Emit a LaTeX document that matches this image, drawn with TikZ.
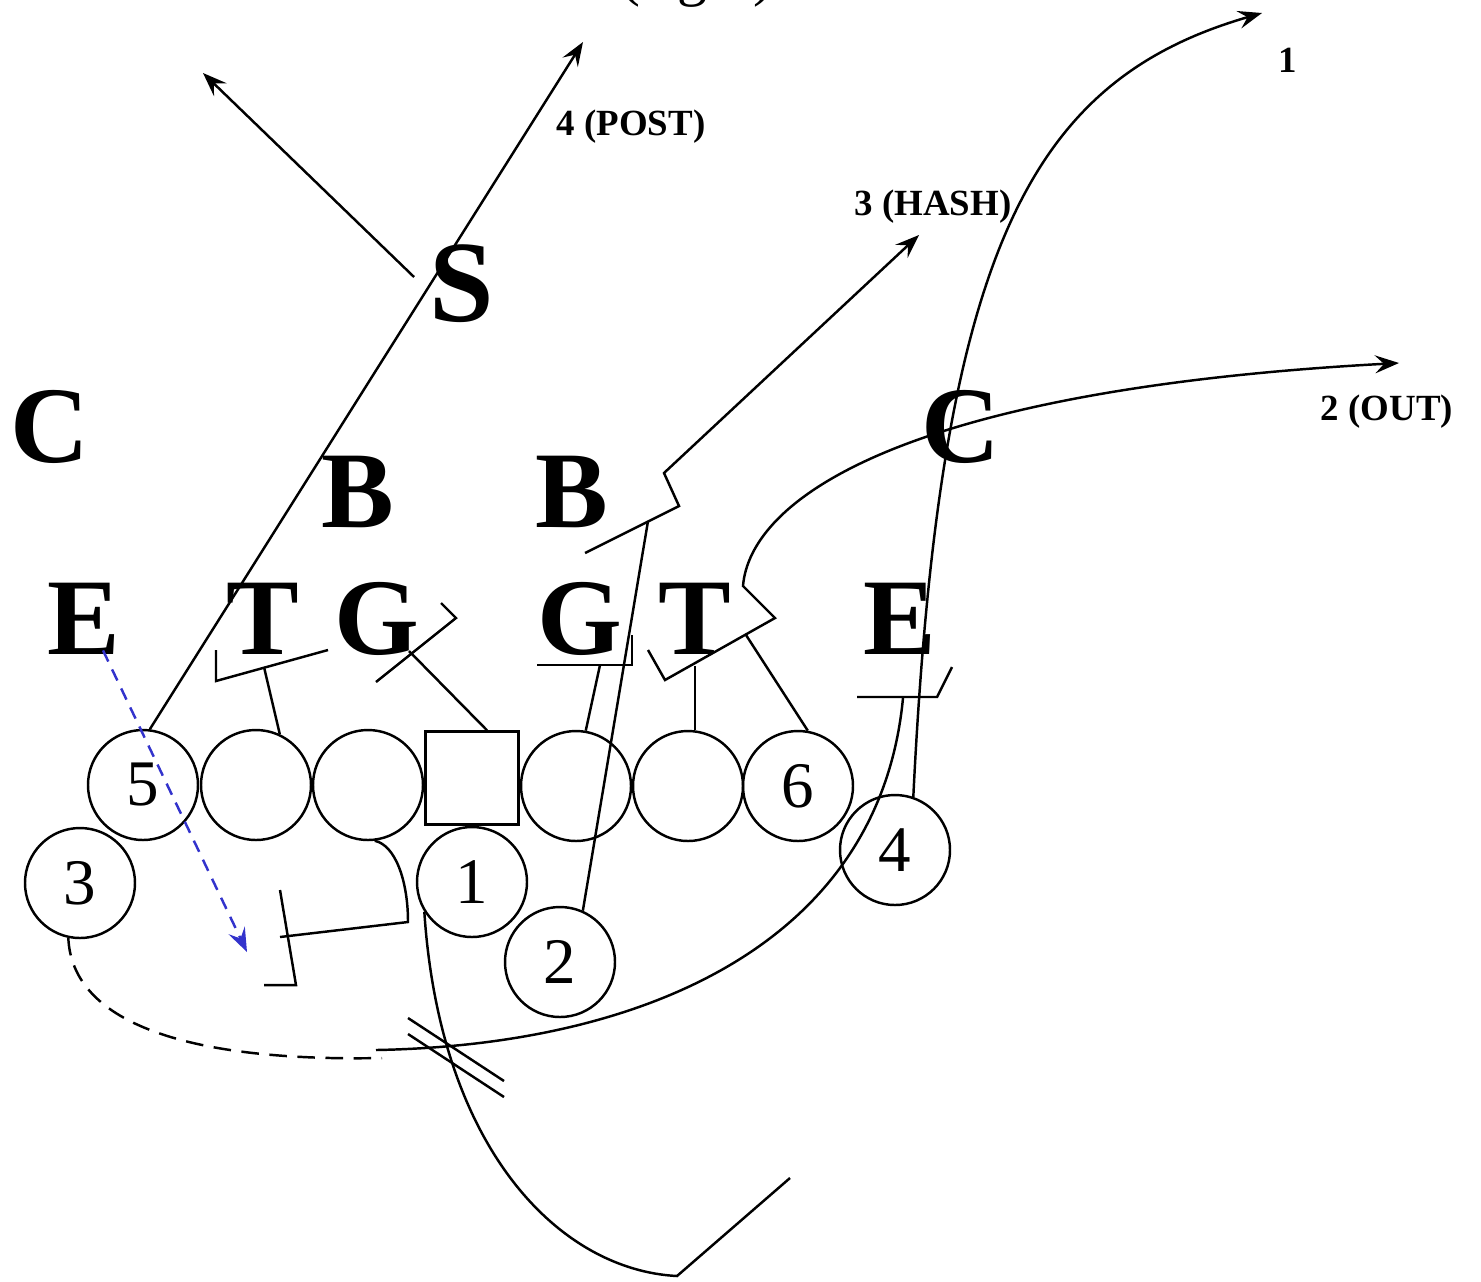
\documentclass[tikz,border=0pt]{standalone}
\usepackage{fontspec}
\setmainfont{Liberation Serif}
\usetikzlibrary{arrows.meta}
\definecolor{motionblue}{RGB}{51,51,204}

\begin{document}
\begin{tikzpicture}[
      player/.style={circle, draw, line width=0.7pt, minimum size=1.1cm,
                     inner sep=0pt, font=\fontsize{18.5}{20}\selectfont},
      snapper/.style={rectangle, draw, line width=0.7pt, minimum size=0.93cm,
                      inner sep=0pt},
      defender/.style={inner sep=0pt, font=\fontsize{31}{36}\selectfont\bfseries},
      routelabel/.style={inner sep=0pt, font=\fontsize{10.5}{12}\selectfont\bfseries},
      route/.style={line width=0.7pt},
      arrow/.style={->, route, >={Stealth[length=2.4mm, width=1.8mm, inset=0.9mm]}},
      motion/.style={arrow, motionblue, dash pattern=on 3.5pt off 2.5pt}
    ]
    \useasboundingbox (0,0) rectangle (14.81,-12.81);

    % offense
    \node[player]  (p5)  at (1.43,-7.85) {5};
    \node[player]  (plt) at (2.56,-7.85) {};
    \node[player]  (plg) at (3.68,-7.85) {};
    \node[snapper] (pc)  at (4.72,-7.78) {};
    \node[player]  (prg) at (5.76,-7.86) {};
    \node[player]  (prt) at (6.88,-7.86) {};
    \node[player]  (p6)  at (7.98,-7.86) {6};
    \node[player]  (p4)  at (8.95,-8.50) {4};
    \node[player]  (p3)  at (0.80,-8.83) {3};
    \node[player]  (p1)  at (4.72,-8.82) {1};
    \node[player]  (p2)  at (5.60,-9.62) {2};

    % defense
    \node[defender] (dcl) at (0.50,-4.27) {C};
    \node[defender, font=\fontsize{33}{38}\selectfont\bfseries] (ds) at (4.62,-2.84) {S};
    \node[defender] (db1) at (3.58,-4.92) {B};
    \node[defender] (db2) at (5.72,-4.92) {B};
    \node[defender] (dcr) at (9.61,-4.27) {C};
    \node[defender] (del) at (0.84,-6.19) {E};
    \node[defender] (dtl) at (2.63,-6.19) {T};
    \node[defender] (dgl) at (3.77,-6.19) {G};
    \node[defender] (dgr) at (5.80,-6.19) {G};
    \node[defender] (dtr) at (6.95,-6.19) {T};
    \node[defender] (der) at (9.00,-6.19) {E};

    % labels
    \node[font=\fontsize{17}{20}\selectfont, anchor=base] (lright) at (6.97,0.06) {(right)};
    \node[routelabel] (lpost) at (6.31,-1.27) {4 (POST)};
    \node[routelabel] (lhash) at (9.33,-2.07) {3 (HASH)};
    \node[routelabel] (lone)  at (12.88,-0.60) {1};
    \node[routelabel] (lout)  at (13.87,-4.12) {2 (OUT)};

    % route ends
    \coordinate (sdeep) at (2.03,-0.73);
    \coordinate (post)  at (5.83,-0.42);
    \coordinate (hash)  at (9.19,-2.35);
    \coordinate (deep)  at (12.62,-0.13);
    \coordinate (out)   at (13.99,-3.63);
    \coordinate (bblk)  at (6.48,-5.21);

    % routes
    \draw[arrow] ([xshift=-1.5mm,yshift=0.7mm]ds.west) -- (sdeep);
    \draw[arrow] (p5.83) -- (post);
    \draw[arrow] (5.85,-5.53) -- (6.79,-5.06) -- (6.64,-4.73) -- (hash);
    \draw[route] (p2.66) -- (bblk);
    \draw[arrow] (p4.71) .. controls (9.40,-2.50) and (10.30,-0.80) .. (deep);
    \draw[arrow] (6.48,-6.50) -- (6.65,-6.80) -- (7.75,-6.18) -- (7.43,-5.86)
                 .. controls (7.50,-5.00) and (9.00,-3.90) .. (out);
    \draw[motion] ([xshift=1.9mm,yshift=0.5mm]del.south) -- (2.47,-9.52);

    % blocks
    \draw[route] (p6.80) -- (7.46,-6.35);
    \draw[route] (prt.83) -- ++(0,0.64);
    \draw[route] (5.37,-6.65) -- (6.32,-6.65) -- (6.32,-6.35);
    \draw[route] (prg.80) -- (6.00,-6.65);
    \draw[route] ([xshift=1.5mm]pc.north) -- (4.09,-6.51);
    \draw[route] (3.76,-6.82) -- (4.56,-6.18) -- (4.41,-6.03);
    \draw[route] (plt.65) -- (2.64,-6.67);
    \draw[route] (2.16,-6.50) -- (2.16,-6.81) -- (3.28,-6.50);
    \draw[route] (8.57,-6.97) -- (9.37,-6.97) -- (9.52,-6.67);

    % backfield
    \draw[route] (plg.-83) .. controls (3.95,-8.45) and (4.08,-8.80) .. (4.08,-9.22)
                 -- (2.80,-9.37);
    \draw[route] (2.80,-8.90) -- (2.96,-9.85) -- (2.64,-9.85);
    \draw[route] (p1.-148) .. controls (4.40,-11.50) and (5.60,-12.70) .. (6.77,-12.76)
                 -- (7.90,-11.78);
    \draw[route] (4.08,-10.18) -- (5.04,-10.81);
    \draw[route] (4.08,-10.34) -- (5.04,-10.97);
    \draw[route, dash pattern=on 5pt off 3pt] (p3.-102)
                 .. controls (0.72,-10.20) and (1.80,-10.62) .. (3.82,-10.58);
    \draw[route] (3.76,-10.50) .. controls (6.50,-10.45) and (8.80,-9.40) .. (9.03,-6.98);
  \end{tikzpicture}
\end{document}
